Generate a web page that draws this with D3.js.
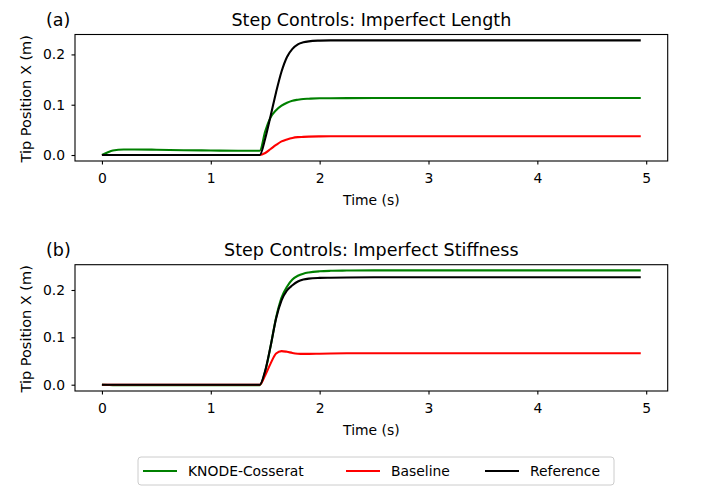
<!DOCTYPE html>
<html>
<head>
<meta charset="utf-8">
<script src="https://cdn.jsdelivr.net/npm/d3@7"></script>
<style>
  html, body { margin: 0; padding: 0; background: #fff; }
  svg { display: block; font-family: "DejaVu Sans", sans-serif; }
</style>
</head>
<body>
<svg id="chart" width="705" height="498"></svg>
<script>
// ---- data ----
const time = [0, 0.05, 0.1, 0.2, 0.3, 0.5, 0.75, 1.0, 1.25, 1.45, 1.5, 1.55, 1.6, 1.65, 1.7, 1.75, 1.8, 1.85, 1.9, 2.0, 2.1, 2.25, 2.5, 3.0, 3.5, 4.0, 4.5, 4.95];

// (a) Imperfect Length
const knodeA = [0, 0.005, 0.009, 0.011, 0.011, 0.0105, 0.0095, 0.009, 0.0085, 0.0085, 0.047, 0.075, 0.089, 0.098, 0.104, 0.108, 0.110, 0.1115, 0.112, 0.1128, 0.113, 0.1132, 0.1133, 0.1133, 0.1133, 0.1133, 0.1133, 0.1133];
const baseA  = [0, 0, 0, 0, 0, 0, 0, 0, 0, 0, 0.004, 0.012, 0.020, 0.027, 0.031, 0.034, 0.0355, 0.036, 0.0365, 0.037, 0.0372, 0.0373, 0.0373, 0.0373, 0.0373, 0.0373, 0.0373, 0.0373];
const refA   = [0, 0, 0, 0, 0, 0, 0, 0, 0, 0, 0.033, 0.078, 0.125, 0.166, 0.195, 0.211, 0.220, 0.224, 0.226, 0.2275, 0.228, 0.228, 0.228, 0.228, 0.228, 0.228, 0.228, 0.228];

// (b) Imperfect Stiffness
const knodeB = [0, -0.0005, -0.001, -0.001, -0.001, -0.001, -0.001, -0.001, -0.001, -0.001, 0.028, 0.082, 0.142, 0.184, 0.207, 0.222, 0.230, 0.2345, 0.237, 0.2395, 0.2405, 0.241, 0.2415, 0.2415, 0.2415, 0.2415, 0.2415, 0.2415];
const baseB  = [0, 0, 0, 0, 0, 0, 0, 0, 0, 0, 0.02, 0.045, 0.066, 0.071, 0.0695, 0.067, 0.0655, 0.065, 0.065, 0.0655, 0.066, 0.0663, 0.0663, 0.0663, 0.0663, 0.0663, 0.0663, 0.0663];
const refB   = [0, 0, 0, 0, 0, 0, 0, 0, 0, 0, 0.03, 0.082, 0.14, 0.178, 0.199, 0.210, 0.218, 0.222, 0.224, 0.2255, 0.226, 0.2265, 0.2268, 0.2268, 0.2268, 0.2268, 0.2268, 0.2268];

const xTicks = [0, 1, 2, 3, 4, 5];
const yTicks = [0.0, 0.1, 0.2];
const seriesNames = ["KNODE-Cosserat", "Baseline", "Reference"];
const seriesColors = ["#008000", "#ff0000", "#000000"];
const panelLabels = ["(a)", "(b)"];
const panelTitles = ["Step Controls: Imperfect Length", "Step Controls: Imperfect Stiffness"];
const xLabel = "Time (s)";
const yLabel = "Tip Position X (m)";

// ---- layout ----
const svg = d3.select("#chart");
const left = 75, right = 667.7;
const panels = [
  { top: 34.5, bottom: 161, ydom: [-0.0119, 0.2396], series: [knodeA, baseA, refA] },
  { top: 264.7, bottom: 391, ydom: [-0.0133, 0.2534], series: [knodeB, baseB, refB] }
];

const x = d3.scaleLinear().domain([-0.2475, 5.1975]).range([left, right]);
const fs = 13.9;

panels.forEach((p, i) => {
  const y = d3.scaleLinear().domain(p.ydom).range([p.bottom, p.top]);
  const g = svg.append("g");

  const clipId = "clip" + i;
  svg.append("clipPath").attr("id", clipId).append("rect")
    .attr("x", left).attr("y", p.top).attr("width", right - left).attr("height", p.bottom - p.top);

  const line = d3.line().x((d, k) => x(time[k])).y(d => y(d)).curve(d3.curveMonotoneX);
  p.series.forEach((s, k) => {
    g.append("path").datum(s)
      .attr("clip-path", `url(#${clipId})`)
      .attr("d", line)
      .attr("fill", "none")
      .attr("stroke", seriesColors[k])
      .attr("stroke-width", 2.1)
      .attr("stroke-linejoin", "round")
      .attr("stroke-linecap", "butt");
  });

  g.append("rect").attr("x", left).attr("y", p.top)
    .attr("width", right - left).attr("height", p.bottom - p.top)
    .attr("fill", "none").attr("stroke", "#000").attr("stroke-width", 1.1);

  const xa = g.append("g").attr("transform", `translate(0,${p.bottom})`)
    .call(d3.axisBottom(x).tickValues(xTicks).tickFormat(d3.format("d")).tickSize(3.5).tickPadding(8.5));
  xa.select(".domain").remove();
  xa.selectAll("line").attr("stroke", "#000").attr("stroke-width", 1.1);
  xa.selectAll("text").attr("font-size", fs).attr("font-family", "DejaVu Sans").attr("fill", "#000");

  const ya = g.append("g").attr("transform", `translate(${left},0)`)
    .call(d3.axisLeft(y).tickValues(yTicks).tickFormat(d3.format(".1f")).tickSize(3.5).tickPadding(6.5));
  ya.select(".domain").remove();
  ya.selectAll("line").attr("stroke", "#000").attr("stroke-width", 1.1);
  ya.selectAll("text").attr("font-size", fs).attr("font-family", "DejaVu Sans").attr("fill", "#000");

  const cx = (left + right) / 2;
  g.append("text").attr("x", cx).attr("y", p.top - 8.5).attr("text-anchor", "middle")
    .attr("font-size", 17.5).text(panelTitles[i]);
  g.append("text").attr("x", 46).attr("y", p.top - 8.5).attr("text-anchor", "start")
    .attr("font-size", 17.5).text(panelLabels[i]);

  g.append("text").attr("x", cx).attr("y", p.bottom + 44).attr("text-anchor", "middle")
    .attr("font-size", fs).text(xLabel);
  g.append("text").attr("transform", `translate(30.5,${(p.top + p.bottom) / 2 + 1}) rotate(-90)`)
    .attr("text-anchor", "middle").attr("font-size", 14.5).text(yLabel);
});

// ---- legend ----
const leg = svg.append("g");
leg.append("rect").attr("x", 138).attr("y", 457).attr("width", 476).attr("height", 28)
  .attr("rx", 3).attr("fill", "#fff").attr("stroke", "#cccccc").attr("stroke-width", 1);
const legX = [143, 346, 485];
seriesNames.forEach((n, k) => {
  leg.append("line").attr("x1", legX[k]).attr("x2", legX[k] + 34)
    .attr("y1", 471).attr("y2", 471)
    .attr("stroke", seriesColors[k]).attr("stroke-width", 2.1);
  leg.append("text").attr("x", legX[k] + 45).attr("y", 476)
    .attr("font-size", fs).text(n);
});
</script>
</body>
</html>
